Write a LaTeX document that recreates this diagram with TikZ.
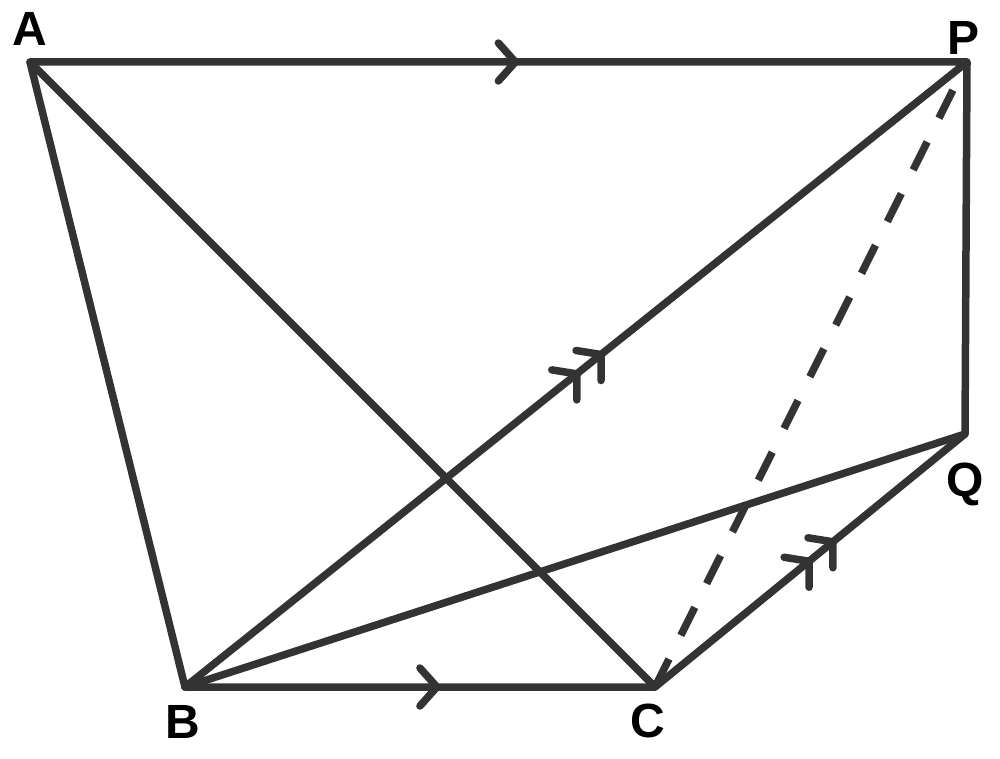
\documentclass[tikz,border=0pt]{standalone}
\usepackage{fontspec}
\setmainfont{Liberation Sans}
\usetikzlibrary{calc}
\definecolor{linec}{RGB}{51,51,51}
\begin{document}
\begin{tikzpicture}[x=1pt,y=-1pt,
  edge/.style={draw=linec,line width=7.5pt,line cap=round,line join=round},
  dashedge/.style={draw=linec,line width=7.5pt,line cap=butt,dash pattern=on 31.3pt off 26.5pt},
  tick/.style={draw=linec,line width=7.5pt,line cap=round,line join=round},
  lbl/.style={inner sep=0pt,font=\fontsize{48}{48}\selectfont\bfseries,text=black}]
\useasboundingbox (0,0) rectangle (1000,759);
\coordinate (A) at (30,62);
\coordinate (P) at (967,62);
\coordinate (Q) at (965,434);
\coordinate (B) at (185,687);
\coordinate (C) at (655,687);
% edges
\draw[edge] (B) -- (A) -- (P) -- (Q) -- (C) -- (B) -- (P);
\draw[edge] (A) -- (C);
\draw[edge] (B) -- (Q);
\draw[dashedge] (C) -- (P);
% parallel marks
\path (A) -- (P) coordinate[pos=0.518] (m1);
\path (B) -- (C) coordinate[pos=0.536] (m2);
\path (B) -- (P) coordinate[pos=0.532] (m3a) coordinate[pos=0.501] (m3b);
\path (C) -- (Q) coordinate[pos=0.574] (m4a) coordinate[pos=0.497] (m4b);
\draw[tick] ($(m1)+(-17,-19)$) -- (m1) -- ($(m1)+(-17,19)$);
\draw[tick] ($(m2)+(-17,-19)$) -- (m2) -- ($(m2)+(-17,19)$);
\draw[tick] ($(m3a)+(-25,-4)$) -- (m3a) -- ($(m3a)+(0,26)$);
\draw[tick] ($(m3b)+(-25,-4)$) -- (m3b) -- ($(m3b)+(0,26)$);
\draw[tick] ($(m4a)+(-25,-4)$) -- (m4a) -- ($(m4a)+(0,26)$);
\draw[tick] ($(m4b)+(-25,-4)$) -- (m4b) -- ($(m4b)+(0,26)$);
% labels
\node[lbl] (lA) at (30,29) {A};
\node[lbl] (lP) at (963,38) {P};
\node[lbl] (lQ) at (965,484) {Q};
\node[lbl] (lB) at (183,722) {B};
\node[lbl] (lC) at (648,721) {C};
\end{tikzpicture}
\end{document}
